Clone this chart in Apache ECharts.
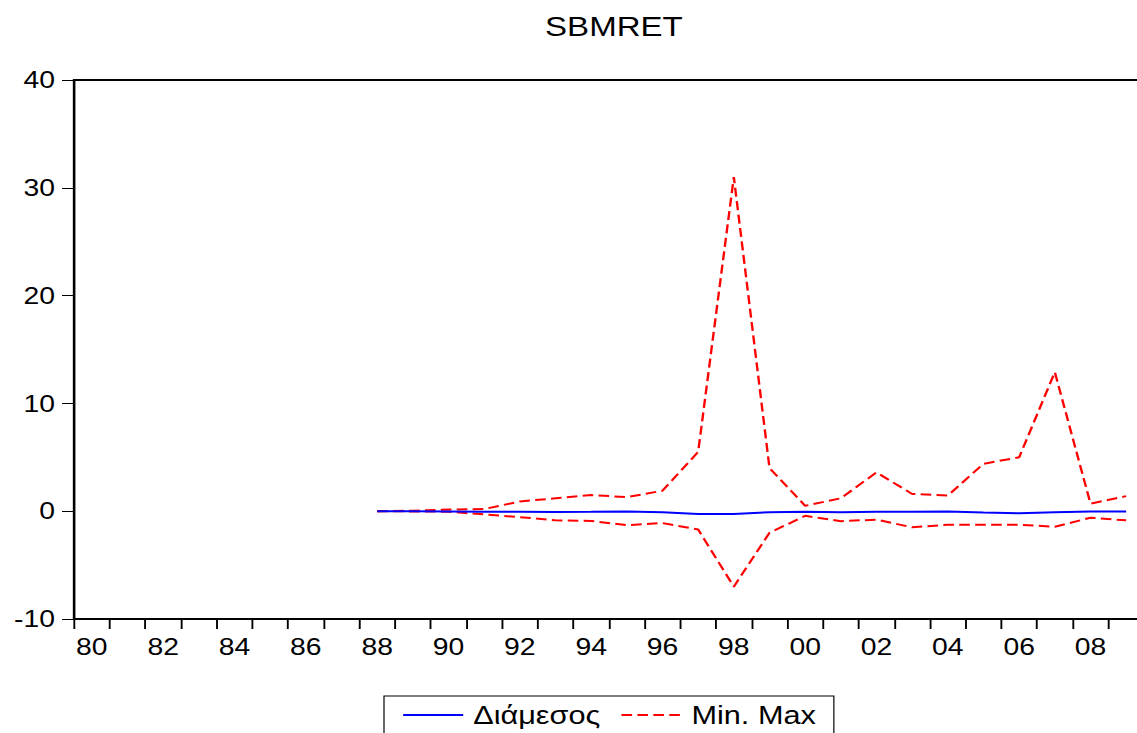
<!DOCTYPE html>
<html>
<head>
<meta charset="utf-8">
<script src="https://cdn.jsdelivr.net/npm/echarts@6/dist/echarts.min.js"></script>
<style>
html,body{margin:0;padding:0;background:#fff;overflow:hidden;}
#wrap{width:1137px;height:733px;overflow:hidden;position:relative;}
#c{width:964px;height:733px;transform:scaleX(1.17946);transform-origin:0 0;}
</style>
</head>
<body>
<div id="wrap"><div id="c"></div></div>
<script>
const years = ['80','81','82','83','84','85','86','87','88','89','90','91','92','93','94','95','96','97','98','99','00','01','02','03','04','05','06','07','08','09'];
const median = [null,null,null,null,null,null,null,null,0,0,-0.02,-0.05,-0.05,-0.07,-0.06,-0.03,-0.1,-0.25,-0.25,-0.1,-0.05,-0.1,-0.05,-0.05,-0.03,-0.12,-0.2,-0.1,-0.02,-0.02];
const maxVals = [null,null,null,null,null,null,null,null,0,0.05,0.15,0.2,0.9,1.2,1.5,1.3,1.9,5.5,31.0,4.0,0.5,1.2,3.6,1.6,1.45,4.4,5.0,12.9,0.7,1.4];
const minVals = [null,null,null,null,null,null,null,null,0,-0.02,-0.05,-0.3,-0.55,-0.85,-0.9,-1.3,-1.1,-1.7,-7.0,-2.0,-0.43,-0.93,-0.78,-1.5,-1.25,-1.25,-1.25,-1.45,-0.6,-0.85];
const yTicks = [-10, 0, 10, 20, 30, 40];

// the reference image is horizontally stretched; the page draws at 964px wide and scales by S
const S = 1137 / 964;
const sx = v => v / S;
const FONT = "'Liberation Sans', Arial, sans-serif";
const chart = echarts.init(document.getElementById('c'), null, { renderer: 'svg' });
chart.setOption({
  animation: false,
  backgroundColor: '#fff',
  title: {
    text: 'SBMRET', left: sx(608), top: 7, textAlign: 'center',
    textStyle: { fontFamily: FONT, fontSize: 28, fontWeight: 'normal', color: '#000' }
  },
  grid: { left: sx(74), top: 80, width: sx(1070), height: 539, outerBoundsMode: 'none', containLabel: false,
          show: true, borderColor: '#000', borderWidth: 2, backgroundColor: 'transparent' },
  xAxis: {
    type: 'category', data: years, boundaryGap: true,
    axisLine: { onZero: false, lineStyle: { color: '#000', width: 2 } },
    axisTick: { show: true, interval: 0, length: 10, lineStyle: { color: '#000', width: 1.6 } },
    axisLabel: { interval: 1, margin: 16, fontFamily: FONT, fontSize: 24, color: '#000' },
    splitLine: { show: false }
  },
  yAxis: {
    type: 'value', min: yTicks[0], max: yTicks[yTicks.length - 1], interval: 10,
    axisLine: { show: true, lineStyle: { color: '#000', width: 1.7 } },
    axisTick: { show: true, inside: false, length: sx(12), lineStyle: { color: '#000', width: 1 } },
    axisLabel: { margin: sx(19), fontFamily: FONT, fontSize: 24, color: '#000' },
    splitLine: { show: false }
  },
  legend: {
    left: sx(384), top: 696, orient: 'horizontal',
    data: ['Διάμεσος', 'Min. Max'],
    borderColor: '#000', borderWidth: 1, padding: [6, sx(18), 12, sx(18)],
    itemWidth: sx(60), itemHeight: 22, itemGap: sx(20),
    itemStyle: { opacity: 0 },
    textStyle: { fontFamily: FONT, fontSize: 26, color: '#000', padding: [0, 0, 0, sx(10) - 5] }
  },
  series: [
    { name: 'Διάμεσος', type: 'line', data: median, symbol: 'none',
      lineStyle: { color: '#0000ff', width: 2 }, itemStyle: { color: '#0000ff' }, z: 3 },
    { name: 'Min. Max', type: 'line', data: maxVals, symbol: 'none',
      lineStyle: { color: '#ff0000', width: 2, type: [9, 4.5] }, itemStyle: { color: '#ff0000' }, z: 2 },
    { name: 'Min. Max', type: 'line', data: minVals, symbol: 'none',
      lineStyle: { color: '#ff0000', width: 2, type: [9, 4.5] }, itemStyle: { color: '#ff0000' }, z: 2 }
  ]
});
</script>
</body>
</html>
